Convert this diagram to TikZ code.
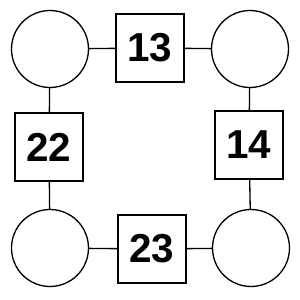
\documentclass[tikz,border=0pt]{standalone}
\usepackage{fontspec}
\setmainfont{Liberation Sans}
\tikzset{
  ring/.style={draw, circle, minimum size=1.54cm, inner sep=0pt},
  numbox/.style={draw, rectangle, minimum size=1.36cm, inner sep=0pt,
    font=\fontsize{23}{26}\selectfont\bfseries}
}
\begin{document}
\begin{tikzpicture}[x=0.02cm, y=-0.02cm, line width=0.75pt]
    \useasboundingbox (0,0) rectangle (300,300);

    % Cerchi agli angoli
    \node[ring] (tl) at (50,49) {};
    \node[ring] (tr) at (250,49) {};
    \node[ring] (bl) at (50,248) {};
    \node[ring] (br) at (251,248) {};

    % Quadrati con i numeri
    \node[numbox] (top) at (150,48) {13};
    \node[numbox] (left) at (49,147) {22};
    \node[numbox] (right) at (249,145) {14};
    \node[numbox] (bottom) at (152,249) {23};

    % Collegamenti
    \draw (tl) -- (top);
    \draw (top) -- (tr);
    \draw (tl) -- (left);
    \draw (left) -- (bl);
    \draw (tr) -- (right);
    \draw (right) -- (br);
    \draw (bl) -- (bottom);
    \draw (bottom) -- (br);
\end{tikzpicture}
\end{document}
